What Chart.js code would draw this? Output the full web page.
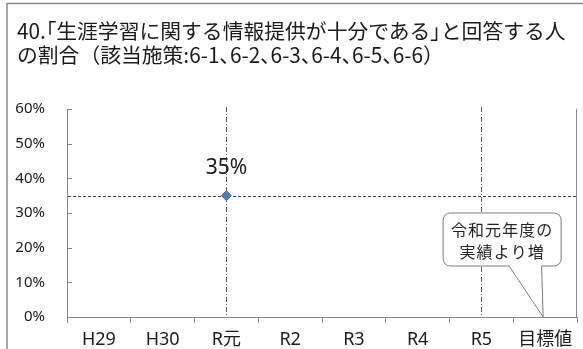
<!DOCTYPE html>
<html lang="ja">
<head>
<meta charset="utf-8">
<script src="https://cdn.jsdelivr.net/npm/chart.js@4"></script>
<style>
html, body { margin: 0; padding: 0; background: #fff; }
#graph-container-rate { position: relative; width: 583px; height: 349px; }
#chart-title {
    position: absolute; left: 17px; top: 19px;
    font: 20.8px/23.5px "Noto Sans CJK JP", sans-serif; color: #1a1a1a;
    white-space: nowrap;
}
#chart-title .p { font-feature-settings: "palt"; }
</style>
</head>
<body>
<div id="graph-container-rate">
    <canvas id="chart-graph-rate" width="583" height="349"></canvas>
    <div id="chart-title"></div>
</div>
<script>
var titleLines = ['40.「生涯学習に関する情報提供が十分である」と回答する人', 'の割合（該当施策:6-1、6-2、6-3、6-4、6-5、6-6）'];
var years = ['H29', 'H30', 'R元', 'R2', 'R3', 'R4', 'R5', '目標値'];
var rates = [null, null, 35, null, null, null, null, null];
var yTicks = [0, 10, 20, 30, 40, 50, 60];
var markYears = ['R元', 'R5'];
var baseYear = 'R元';
var targetYear = '目標値';
var targetNote = ['令和元年度の', '実績より増'];

var FONT = '"Noto Sans", "Noto Sans CJK JP", sans-serif';
var FONT_JP = '"Noto Sans CJK JP", sans-serif';
var AXIS = '#868686';

// title: brackets and commas set proportional, like the original
var titleBox = document.getElementById('chart-title');
titleLines.forEach(function (line) {
    var div = document.createElement('div');
    line.split(/([「」、])/).forEach(function (part) {
        if (!part) return;
        if (/^[「」、]$/.test(part)) {
            var s = document.createElement('span');
            s.className = 'p';
            s.textContent = part;
            div.appendChild(s);
        } else {
            div.appendChild(document.createTextNode(part));
        }
    });
    titleBox.appendChild(div);
});

var decorate = {
    id: 'decorate',
    beforeDraw: function (chart) {
        var ctx = chart.ctx;
        ctx.save();
        // outer frame
        ctx.strokeStyle = '#8a8a8a';
        ctx.lineWidth = 1.5;
        ctx.beginPath();
        ctx.moveTo(7, 349);
        ctx.lineTo(7, 3.5);
        ctx.lineTo(583, 3.5);
        ctx.stroke();
        ctx.restore();
    },
    beforeDatasetsDraw: function (chart) {
        var ctx = chart.ctx, area = chart.chartArea;
        var x = chart.scales.x, y = chart.scales.y;
        ctx.save();
        ctx.strokeStyle = AXIS;
        ctx.lineWidth = 1;
        // y tick marks pointing inward
        yTicks.forEach(function (v) {
            var py = Math.round(y.getPixelForValue(v)) + 0.5;
            ctx.beginPath();
            ctx.moveTo(area.left, py);
            ctx.lineTo(area.left + 5, py);
            ctx.stroke();
        });
        // right edge of plot
        ctx.beginPath();
        ctx.moveTo(Math.round(area.right) - 0.5, area.top);
        ctx.lineTo(Math.round(area.right) - 0.5, area.bottom);
        ctx.stroke();
        // dash-dot year markers
        ctx.strokeStyle = '#595959';
        ctx.setLineDash([5, 2, 1, 2]);
        markYears.forEach(function (lab) {
            var px = Math.round(x.getPixelForValue(years.indexOf(lab))) + 0.5;
            ctx.beginPath();
            ctx.moveTo(px, area.top - 2);
            ctx.lineTo(px, area.bottom);
            ctx.stroke();
        });
        // dashed base value line
        var base = rates[years.indexOf(baseYear)];
        var by = Math.round(y.getPixelForValue(base)) + 0.5;
        ctx.strokeStyle = '#404040';
        ctx.setLineDash([3, 2]);
        ctx.beginPath();
        ctx.moveTo(area.left + 1, by);
        ctx.lineTo(area.right, by);
        ctx.stroke();
        ctx.restore();
    },
    afterDatasetsDraw: function (chart) {
        var ctx = chart.ctx;
        var x = chart.scales.x, y = chart.scales.y;
        var meta = chart.getDatasetMeta(0);
        ctx.save();
        // value labels
        ctx.fillStyle = '#1a1a1a';
        ctx.font = '21px ' + FONT;
        ctx.textAlign = 'center';
        ctx.textBaseline = 'middle';
        rates.forEach(function (v, i) {
            if (v === null) return;
            var pt = meta.data[i];
            ctx.fillText(v + '%', pt.x, pt.y - 28);
        });
        // callout for target
        var tipX = x.getPixelForValue(years.indexOf(targetYear)) - 2;
        var tipY = y.getPixelForValue(0);
        var L = tipX - 100, R = tipX + 18, T = tipY - 104, B = tipY - 51, r = 7;
        ctx.beginPath();
        ctx.moveTo(L + r, T);
        ctx.arcTo(R, T, R, B, r);
        ctx.arcTo(R, B, L, B, r);
        ctx.lineTo(tipX - 1.5, B);
        ctx.lineTo(tipX, tipY);
        ctx.lineTo(tipX - 34, B);
        ctx.arcTo(L, B, L, T, r);
        ctx.arcTo(L, T, R, T, r);
        ctx.closePath();
        ctx.fillStyle = '#fff';
        ctx.fill();
        ctx.strokeStyle = '#7a7a7a';
        ctx.lineWidth = 1;
        ctx.stroke();
        ctx.fillStyle = '#262626';
        ctx.font = '16px ' + FONT_JP;
        ctx.letterSpacing = '1px';
        ctx.fillText(targetNote[0], (L + R) / 2, T + 17);
        ctx.fillText(targetNote[1], (L + R) / 2, T + 39);
        ctx.restore();
    }
};

new Chart(document.getElementById('chart-graph-rate').getContext('2d'), {
    type: 'line',
    data: {
        labels: years,
        datasets: [{
            data: rates,
            showLine: false,
            pointStyle: 'rectRot',
            pointRadius: 5,
            pointBorderWidth: 1,
            backgroundColor: '#4a7ebb',
            borderColor: '#3c6ca8'
        }]
    },
    options: {
        responsive: false,
        animation: false,
        devicePixelRatio: 1,
        layout: { padding: { top: 109, right: 2, left: 0, bottom: 0 } },
        plugins: { legend: { display: false }, tooltip: { enabled: false } },
        scales: {
            x: {
                offset: true,
                grid: { offset: true, drawOnChartArea: false, drawTicks: true, tickLength: 6, color: AXIS },
                border: { color: AXIS },
                ticks: { color: '#1a1a1a', font: { family: FONT, size: 18 }, padding: 6, maxRotation: 0, autoSkip: false },
                afterFit: function (s) { s.height = 32; }
            },
            y: {
                min: 0,
                max: 60,
                grid: { drawOnChartArea: false, drawTicks: false },
                border: { color: AXIS },
                afterBuildTicks: function (s) { s.ticks = yTicks.map(function (v) { return { value: v }; }); },
                ticks: { color: '#1a1a1a', font: { family: FONT, size: 15 }, padding: 22, callback: function (v) { return v + '%'; } },
                afterFit: function (s) { s.width = 67; }
            }
        }
    },
    plugins: [decorate]
});
</script>
</body>
</html>
